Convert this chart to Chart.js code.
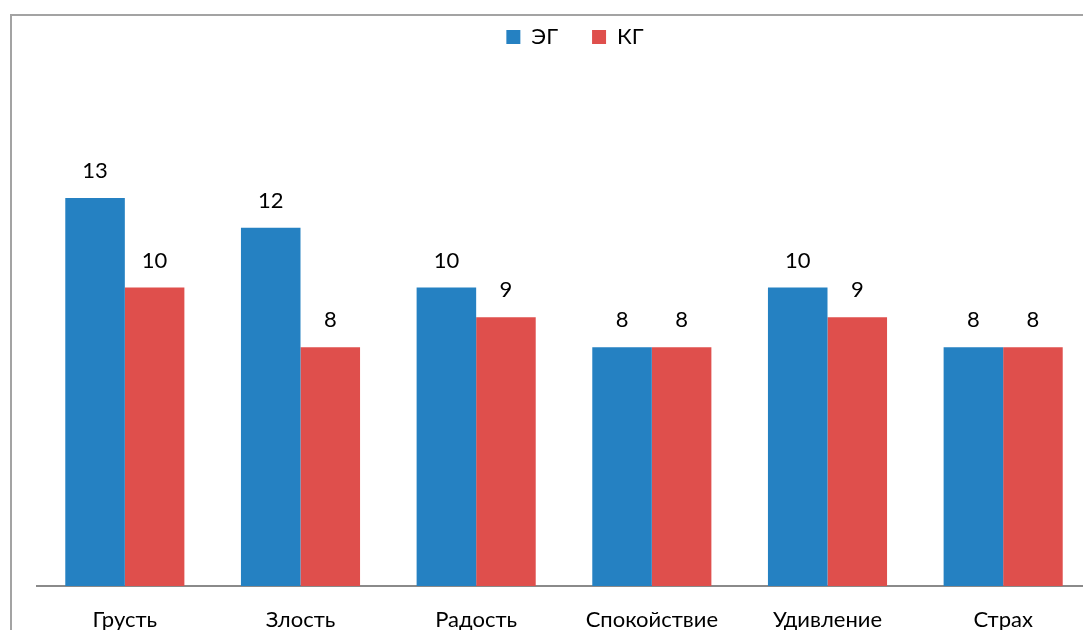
<!DOCTYPE html>
<html>
<head>
<meta charset="utf-8">
<script src="https://cdn.jsdelivr.net/npm/chart.js@4"></script>
<style>
  html, body { margin: 0; padding: 0; overflow: hidden; background: #fff; }
  #wrap { width: 1083px; height: 630px; overflow: hidden; position: relative; }
  canvas { position: absolute; left: 0; top: 0; }
</style>
</head>
<body>
<div id="wrap"><canvas id="c" width="1150" height="650"></canvas></div>
<script>
const categories = ["Грусть", "Злость", "Радость", "Спокойствие", "Удивление", "Страх"];
const seriesEG = [13, 12, 10, 8, 10, 8];
const seriesKG = [10, 8, 9, 8, 9, 8];
const seriesNames = ["ЭГ", "КГ"];

const FONT = "Lato, 'Open Sans', sans-serif";
const FSIZE = 22;

const framePlugin = {
  id: 'frame',
  beforeDraw(chart) {
    const ctx = chart.ctx;
    ctx.save();
    ctx.fillStyle = '#ffffff';
    ctx.fillRect(0, 0, chart.width, chart.height);
    ctx.strokeStyle = '#a3a3a3';
    ctx.lineWidth = 2;
    ctx.beginPath();
    ctx.moveTo(11, chart.height);
    ctx.lineTo(11, 15);
    ctx.lineTo(chart.width, 15);
    ctx.stroke();
    ctx.restore();
  }
};

// shift the legend so it sits where the reference has it (centre x ~575)
const legendShift = {
  id: 'legendShift',
  afterLayout(chart) {
    const l = chart.legend;
    if (!l) return;
    const dx = 575 - (l.left + l.right) / 2;
    l.left += dx; l.right += dx;
    l.adjustHitBoxes();
  }
};

const valueLabels = {
  id: 'valueLabels',
  afterDatasetsDraw(chart) {
    const ctx = chart.ctx;
    ctx.save();
    ctx.font = FSIZE + 'px ' + FONT;
    ctx.fillStyle = '#000000';
    ctx.textAlign = 'center';
    ctx.textBaseline = 'middle';
    chart.data.datasets.forEach((ds, i) => {
      chart.getDatasetMeta(i).data.forEach((bar, j) => {
        ctx.fillText(String(ds.data[j]), bar.x, bar.y - 27);
      });
    });
    ctx.restore();
  }
};

new Chart(document.getElementById('c'), {
  type: 'bar',
  data: {
    labels: categories,
    datasets: [
      { label: seriesNames[0], data: seriesEG, backgroundColor: '#2581c2' },
      { label: seriesNames[1], data: seriesKG, backgroundColor: '#df4f4c' }
    ]
  },
  options: {
    responsive: false,
    animation: false,
    devicePixelRatio: 1,
    layout: { padding: { left: 37, right: 59, top: -8, bottom: 0 } },
    datasets: { bar: { categoryPercentage: 0.678, barPercentage: 1.0 } },
    plugins: {
      legend: {
        position: 'top',
        labels: {
          boxWidth: 14, boxHeight: 14, padding: 34,
          color: '#000', font: { family: FONT, size: FSIZE }
        }
      },
      tooltip: { enabled: false }
    },
    scales: {
      x: {
        grid: { display: false, drawTicks: false },
        border: { display: true, color: '#8a8a8a', width: 2 },
        ticks: { color: '#000', font: { family: FONT, size: FSIZE }, padding: 21, maxRotation: 0, autoSkip: false },
        afterFit(scale) { scale.height = 64; }
      },
      y: {
        display: false,
        min: 0,
        max: 17.69
      }
    }
  },
  plugins: [framePlugin, legendShift, valueLabels]
});
</script>
</body>
</html>
